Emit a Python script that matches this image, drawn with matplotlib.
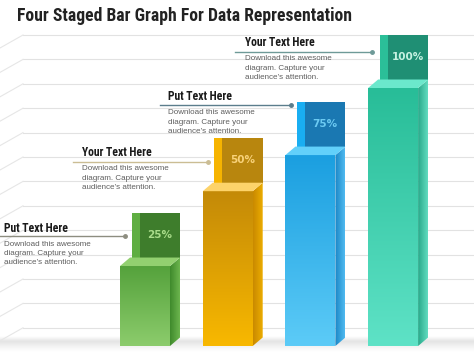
import matplotlib
matplotlib.use('Agg')
import matplotlib.pyplot as plt
import numpy as np
from matplotlib.patches import Polygon, Rectangle
from matplotlib.colors import LinearSegmentedColormap
from matplotlib import font_manager as fm

# ---------------- data ----------------
title = "Four Staged Bar Graph For Data Representation"
stages = ["Stage 1", "Stage 2", "Stage 3", "Stage 4"]
bar_heights = [31, 60, 74, 100]          # visual bar heights (relative)
pct_labels = ["25%", "50%", "75%", "100%"]
headings = ["Put Text Here", "Your Text Here", "Put Text Here", "Your Text Here"]
body_lines = ["Download this awesome", "diagram. Capture your", "audience\u2019s attention."]

# ---------------- styles ----------------
front_top = ["#55a23c", "#c48a08", "#1b9fe0", "#28bd98"]
front_bot = ["#8ccc6c", "#f8b800", "#5ccbf7", "#5ee2c6"]
side_in = ["#3f8a2c", "#c98a00", "#1a86c6", "#28a98a"]
side_out = ["#6cb54e", "#f0b000", "#50baf0", "#62dcc0"]
top_col = ["#92d070", "#fdd36a", "#62d0fa", "#6be8cc"]
strip_col = ["#5fae42", "#f6b400", "#19aef2", "#2bbf98"]
block_col = ["#3e7d2c", "#b8860e", "#1a78b2", "#1f8f74"]
label_col = ["#a9dc8a", "#f8d27a", "#6ccaf2", "#c6f2e2"]
line_col = ["#8d8d80", "#cbbd94", "#5b7d8c", "#6e9a98"]

installed = set(f.name for f in fm.fontManager.ttflist)
cands = ["Roboto Condensed", "Archivo Narrow", "Asap Condensed", "Liberation Sans Narrow"]
heading_font = [c for c in cands if c in installed][:1] + ["DejaVu Sans"]

W, H = 474, 355
fig = plt.figure(figsize=(W / 100, H / 100), dpi=100)
fig.patch.set_facecolor("white")

# pixel-space axes for decoration & text
axp = fig.add_axes([0, 0, 1, 1])
axp.set_xlim(0, W)
axp.set_ylim(H, 0)
axp.axis("off")

# background guide lines
for y in np.arange(35, 335, 24.4):
    axp.plot([23, W], [y, y], color="#e2e2e2", lw=0.8, zorder=1)
    axp.plot([0, 23], [y + 13, y], color="#e6e6e6", lw=0.8, zorder=1)

# floor shadow
grad = np.linspace(0, 1, 50).reshape(-1, 1)
floor_cmap = LinearSegmentedColormap.from_list("fl", ["#ffffff", "#e4e4e4", "#f4f4f4", "#ffffff"])
axp.imshow(grad, extent=[0, W, 352, 336], cmap=floor_cmap, aspect="auto", zorder=0.5)

# title
axp.text(17, 16, title, fontsize=12.7, fontweight="bold", family=heading_font,
         color="#222222", va="center", ha="left", zorder=5)

# text groups
head_pos = [(4, 228), (82, 153), (168, 97), (245, 43)]
lead_y = [236, 162, 105, 52]
lead_x = [(0, 125), (73, 208), (160, 291), (235, 372)]
for i in range(4):
    hx, hy = head_pos[i]
    axp.text(hx, hy, headings[i], fontsize=8.4, fontweight="bold", family=heading_font,
             color="#1a1a1a", va="center", ha="left", zorder=5)
    axp.plot(lead_x[i], [lead_y[i]] * 2, color=line_col[i], lw=1.0, zorder=4)
    axp.plot([lead_x[i][1]], [lead_y[i]], "o", ms=2.5, color=line_col[i], zorder=4)
    for k, ln in enumerate(body_lines):
        axp.text(hx, hy + 16 + 9.3 * k, ln, fontsize=5.8, family=["Liberation Sans", "DejaVu Sans"],
                 color="#5e5e5e", va="center", ha="left", zorder=5)

# ---------------- bar axes ----------------
ax = fig.add_axes([0, 0, 1, 1])
ax.patch.set_alpha(0)
ax.axis("off")
px_per_cat = 82.7
x0_px = 145
floor_px = 346
top100_px = 88
unit = (floor_px - top100_px) / 100.0     # pixels per value unit

bw = 50 / px_per_cat
dx = 10 / px_per_cat
dy = 8.5 / unit
block_h = 45 / unit
strip_w = 8 / px_per_cat

g_v = np.linspace(0, 1, 100).reshape(-1, 1)
g_h = np.linspace(0, 1, 50).reshape(1, -1)
xs = np.arange(len(stages))
for i, (x, h) in enumerate(zip(xs, bar_heights)):
    fl, fr = x - bw / 2, x + bw / 2
    bb = h + dy
    bl = fl + dx + 0.02
    ax.add_patch(Rectangle((bl, bb), fr + dx - bl, block_h,
                           facecolor=block_col[i], edgecolor="none", zorder=2))
    ax.add_patch(Rectangle((bl, bb), strip_w, block_h,
                           facecolor=strip_col[i], edgecolor="none", zorder=2.1))
    ax.text((bl + strip_w + fr + dx) / 2, bb + block_h / 2, pct_labels[i],
            fontsize=7.5, fontweight="bold", color=label_col[i], ha="center", va="center",
            family="DejaVu Sans", zorder=2.2)
    # front face
    front = Polygon([(fl, 0), (fr, 0), (fr, h), (fl, h)], closed=True,
                    facecolor="none", edgecolor="none", zorder=3)
    ax.add_patch(front)
    cmap = LinearSegmentedColormap.from_list("f%d" % i, [front_bot[i], front_top[i]])
    im = ax.imshow(g_v, extent=[fl, fr, 0, h], origin="lower", cmap=cmap, aspect="auto", zorder=3)
    im.set_clip_path(front)
    # side face
    side = Polygon([(fr, 0), (fr + dx, dy), (fr + dx, h + dy), (fr, h)], closed=True,
                   facecolor="none", edgecolor="none", zorder=3)
    ax.add_patch(side)
    scmap = LinearSegmentedColormap.from_list("s%d" % i, [side_in[i], side_out[i]])
    ims = ax.imshow(g_h, extent=[fr, fr + dx, 0, h + dy], origin="lower", cmap=scmap,
                    aspect="auto", zorder=3)
    ims.set_clip_path(side)
    # top face
    top = Polygon([(fl, h), (fr, h), (fr + dx, h + dy), (fl + dx, h + dy)], closed=True,
                  facecolor=top_col[i], edgecolor="none", zorder=3.1)
    ax.add_patch(top)

ax.set_xlim(-x0_px / px_per_cat, (W - x0_px) / px_per_cat)
ax.set_ylim(-(H - floor_px) / unit, floor_px / unit)

fig.savefig("out.png", dpi=100, facecolor="white")
